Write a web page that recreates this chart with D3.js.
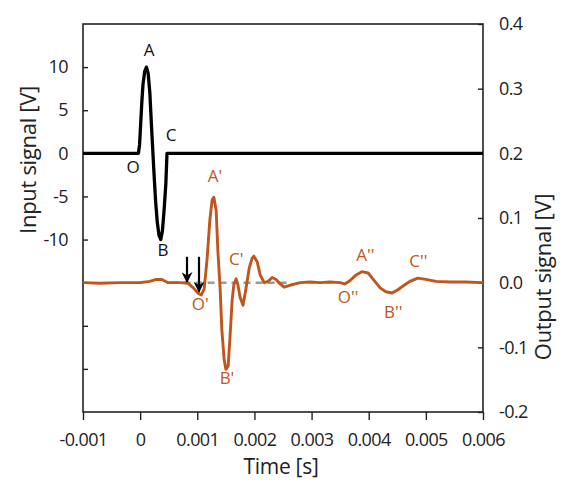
<!DOCTYPE html>
<html><head><meta charset="utf-8">
<script src="https://cdn.jsdelivr.net/npm/d3@7"></script>
<style>body{margin:0;background:#fff}text{font-family:"Open Sans",sans-serif}</style>
</head><body><svg id="c" width="568" height="495"></svg>
<script>
const xTicks=[-0.001,0,0.001,0.002,0.003,0.004,0.005,0.006];
const xTickLabels=["-0.001","0","0.001","0.002","0.003","0.004","0.005","0.006"];
const leftTicks=[-25,-20,-15,-10,-5,0,5,10];
const leftLabels={"-10":"-10","-5":"-5","0":"0","5":"5","10":"10"};
const rightTicks=[-0.2,-0.1,0.0,0.1,0.2,0.3,0.4];
const rightLabels=["-0.2","-0.1","0.0","0.1","0.2","0.3","0.4"];
const inputT=[-0.001,-0.00003,-0.00001,0.00001,0.00003,0.00005,0.00008,0.00011,0.00014,0.00017,0.0002,0.00022,0.00024,0.00027,0.0003,0.00033,0.00036,0.00039,0.00042,0.00045,0.00047,0.006];
const inputV=[0,0,1,3.5,6,8,9.5,10,9.3,7,3,0.5,-2,-5.5,-8,-9.5,-10,-9,-6.5,-3.5,0,0];
const outT=[-0.001,-0.0007,-0.00035,0,0.00017,0.00028,0.00038,0.00049,0.0007,0.00084,0.00093,0.00101,0.00107,0.00112,0.00117,0.00122,0.00126,0.00129,0.00133,0.00136,0.0014,0.00143,0.00147,0.0015,0.00154,0.00157,0.00161,0.00164,0.00168,0.00171,0.00175,0.0018,0.00185,0.00191,0.00196,0.00199,0.00205,0.0021,0.00217,0.00224,0.00231,0.00238,0.00245,0.00252,0.00262,0.0028,0.00297,0.00315,0.00332,0.0035,0.00358,0.00367,0.00378,0.00388,0.00399,0.00409,0.0042,0.0043,0.00441,0.00451,0.00462,0.00472,0.00486,0.005,0.00518,0.00542,0.00569,0.006];
const outV=[0,-0.001,0,0,0.002,0.005,0.005,0,0,-0.001,-0.008,-0.016,-0.019,-0.010,0.035,0.097,0.128,0.132,0.112,0.050,-0.010,-0.073,-0.119,-0.134,-0.129,-0.088,-0.027,-0.003,0.006,-0.003,-0.023,-0.035,-0.010,0.023,0.038,0.041,0.032,0.012,0,0.002,0.008,0.005,-0.002,-0.007,-0.004,0,0.001,0,0.001,0,-0.002,0.003,0.012,0.017,0.015,0.004,-0.008,-0.014,-0.016,-0.011,-0.004,0.002,0.007,0.005,0.002,0.001,0.001,0];
const refLineT=[0.00055,0.0026];
const inLabels=[["A",0.000155,11.8],["O",-0.000125,-1.7],["B",0.0004,-11.4],["C",0.00054,1.9]];
const outLabels=[["A'",0.00131,0.162],["O'",0.00105,-0.036],["B'",0.00152,-0.15],["C'",0.00168,0.035],["A''",0.00394,0.04],["O''",0.00364,-0.025],["B''",0.00443,-0.048],["C''",0.00487,0.032]];
const arrowsT=[0.00082,0.00103];
const arrowEndV=[0.001,-0.014];

const W=568,H=495,L=83,R=483,T=24,B=412;
const svg=d3.select("#c");
const x=d3.scaleLinear().domain([-0.001,0.006]).range([L,R]);
const yl=d3.scaleLinear().domain([-30,15]).range([B,T]);
const yr=d3.scaleLinear().domain([-0.2,0.4]).range([B,T]);
const orange="#c0561c";

// axes
const gx=svg.append("g").attr("transform",`translate(0,${B})`)
 .call(d3.axisBottom(x).tickValues(xTicks).tickSize(8).tickPadding(13).tickFormat((d,i)=>xTickLabels[i]));
const gl=svg.append("g").attr("transform",`translate(${L},0)`)
 .call(d3.axisLeft(yl).tickValues(leftTicks).tickSizeInner(-5).tickSizeOuter(0).tickPadding(15).tickFormat(d=>leftLabels[String(d)]||""));
const gr=svg.append("g").attr("transform",`translate(${R},0)`)
 .call(d3.axisRight(yr).tickValues(rightTicks).tickSizeInner(-5).tickSizeOuter(0).tickPadding(16).tickFormat((d,i)=>rightLabels[i]));
[gx,gl,gr].forEach(g=>{g.selectAll("path.domain").remove();g.selectAll("line").attr("stroke","#222").attr("stroke-width",1.4);
 g.selectAll("text").attr("font-size",18).attr("fill","#222").attr("letter-spacing","-0.6px");});
svg.append("rect").attr("x",L).attr("y",T).attr("width",R-L).attr("height",B-T).attr("fill","none").attr("stroke","#222").attr("stroke-width",1.6);

// reference dashed
svg.append("line").attr("x1",x(refLineT[0])).attr("x2",x(refLineT[1])).attr("y1",yr(0)).attr("y2",yr(0))
 .attr("stroke","#9a9a9a").attr("stroke-width",2.5).attr("stroke-dasharray","7,5");

// lines
const inData=inputT.map((t,i)=>[t,inputV[i]]);
const outData=outT.map((t,i)=>[t,outV[i]]);
svg.append("path").datum(outData).attr("fill","none").attr("stroke",orange).attr("stroke-width",2.9).attr("stroke-linejoin","round")
 .attr("d",d3.line().x(d=>x(d[0])).y(d=>yr(d[1])));
svg.append("path").datum(inData).attr("fill","none").attr("stroke","#000").attr("stroke-width",3.3).attr("stroke-linejoin","round")
 .attr("d",d3.line().x(d=>x(d[0])).y(d=>yl(d[1])));

// arrows
svg.append("defs").append("marker").attr("id","ah").attr("viewBox","0 0 10 10").attr("refX",9).attr("refY",5)
 .attr("markerWidth",5).attr("markerHeight",5).attr("orient","auto")
 .append("path").attr("d","M0,0L10,5L0,10L3,5Z").attr("fill","#000");
arrowsT.forEach((t,i)=>{
 svg.append("line").attr("x1",x(t)).attr("x2",x(t)).attr("y1",yr(0.04)).attr("y2",yr(arrowEndV[i]))
  .attr("stroke","#000").attr("stroke-width",2.2).attr("marker-end","url(#ah)");
});

// labels
inLabels.forEach(([s,t,v])=>svg.append("text").attr("x",x(t)).attr("y",yl(v)).attr("text-anchor","middle")
 .attr("dominant-baseline","middle").attr("font-size",17).attr("fill","#111").text(s));
outLabels.forEach(([s,t,v])=>svg.append("text").attr("x",x(t)).attr("y",yr(v)).attr("text-anchor","middle")
 .attr("dominant-baseline","middle").attr("font-size",17).attr("fill",orange).text(s));

// titles
svg.append("text").attr("x",281).attr("y",474).attr("text-anchor","middle").attr("font-size",21).attr("fill","#222").attr("letter-spacing","-0.3px").text("Time [s]");
svg.append("text").attr("transform","translate(30,160) rotate(-90)").attr("text-anchor","middle").attr("dominant-baseline","middle").attr("font-size",22).attr("fill","#222").attr("letter-spacing","-0.3px").text("Input signal [V]");
svg.append("text").attr("transform","translate(545,277) rotate(-90)").attr("text-anchor","middle").attr("dominant-baseline","middle").attr("font-size",22).attr("fill","#222").attr("letter-spacing","-0.3px").text("Output signal [V]");
</script></body></html>
